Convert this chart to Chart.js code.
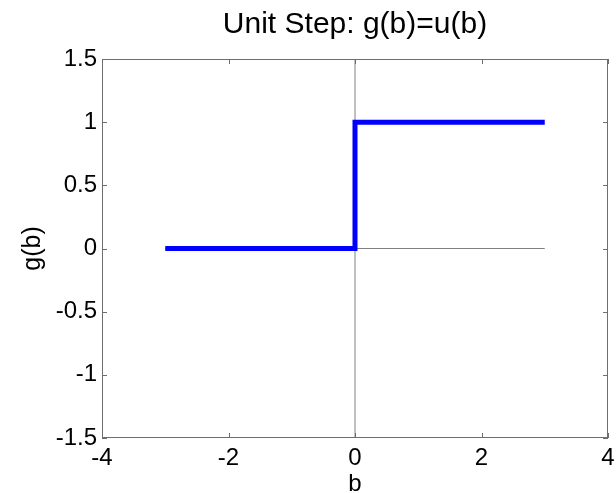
<!DOCTYPE html>
<html>
<head>
<meta charset="utf-8">
<script src="https://cdn.jsdelivr.net/npm/chart.js@4"></script>
<style>
  body { margin: 0; background: #fff; }
  #wrap { width: 616px; height: 493px; }
</style>
</head>
<body>
<div id="wrap"><canvas id="myChart"></canvas></div>
<script>
// step function data
var stepX = [-3, 0, 0, 3];
var stepY = [0, 0, 1, 1];
// thin reference lines through the origin
var vLineX = [0, 0];
var vLineY = [-1.5, 1.5];
var hLineX = [-3, 3];
var hLineY = [0, 0];
// axis ticks
var xTicks = [-4, -2, 0, 2, 4];
var yTicks = [-1.5, -1, -0.5, 0, 0.5, 1, 1.5];

function pts(xs, ys) {
    return xs.map(function(x, i) { return {x: x, y: ys[i]}; });
}

// box around the plot with inward tick marks (matlab style)
var boxPlugin = {
    id: 'box',
    afterDatasetsDraw: function(chart) {
        var ctx = chart.ctx, a = chart.chartArea;
        var xs = chart.scales.x, ys = chart.scales.y;
        ctx.save();
        ctx.strokeStyle = '#6e6e6e';
        ctx.lineWidth = 1;
        ctx.strokeRect(a.left + 0.5, a.top + 0.5, a.right - a.left - 1, a.bottom - a.top - 1);
        ctx.beginPath();
        xs.ticks.forEach(function(t) {
            var px = Math.round(xs.getPixelForValue(t.value)) + 0.5;
            ctx.moveTo(px, a.bottom); ctx.lineTo(px, a.bottom - 5);
            ctx.moveTo(px, a.top); ctx.lineTo(px, a.top + 5);
        });
        ys.ticks.forEach(function(t) {
            var py = Math.round(ys.getPixelForValue(t.value)) + 0.5;
            ctx.moveTo(a.left, py); ctx.lineTo(a.left + 5, py);
            ctx.moveTo(a.right, py); ctx.lineTo(a.right - 5, py);
        });
        ctx.stroke();
        ctx.restore();
    }
};

var font = 'Liberation Sans, Arial, sans-serif';
var ctx = document.getElementById('myChart').getContext('2d');
var myChart = new Chart(ctx, {
    type: 'line',
    data: {
        datasets: [{
            label: 'u(b)',
            data: pts(stepX, stepY),
            borderColor: '#0000ff',
            borderWidth: 5,
            pointRadius: 0,
            fill: false
        }, {
            label: 'vline',
            data: pts(vLineX, vLineY),
            borderColor: '#808080',
            borderWidth: 1,
            pointRadius: 0,
            fill: false
        }, {
            label: 'hline',
            data: pts(hLineX, hLineY),
            borderColor: '#808080',
            borderWidth: 1,
            pointRadius: 0,
            fill: false
        }]
    },
    options: {
        responsive: true,
        maintainAspectRatio: false,
        animation: false,
        layout: { padding: { left: 0, right: 8, top: 0, bottom: 0 } },
        plugins: {
            legend: { display: false },
            tooltip: { enabled: false },
            title: {
                display: true,
                text: 'Unit Step: g(b)=u(b)',
                fullSize: false,
                color: '#000',
                font: { family: font, size: 30, weight: 'normal', lineHeight: 1.2 },
                padding: { top: 7, bottom: 16 }
            }
        },
        scales: {
            x: {
                type: 'linear',
                min: -4, max: 4,
                afterBuildTicks: function(s) { s.ticks = xTicks.map(function(v) { return {value: v}; }); },
                afterFit: function(s) { s.height = 55; s.paddingLeft = 0; s.paddingRight = 0; },
                grid: { display: false, drawTicks: false },
                border: { display: false },
                ticks: {
                    color: '#000', padding: 6, maxRotation: 0,
                    font: { family: font, size: 24 },
                    callback: function(v) { return String(v); }
                },
                title: {
                    display: true, text: 'b', color: '#000',
                    font: { family: font, size: 24, lineHeight: 1 },
                    padding: { top: 0, bottom: -3 }
                }
            },
            y: {
                type: 'linear',
                min: -1.5, max: 1.5,
                afterBuildTicks: function(s) { s.ticks = yTicks.map(function(v) { return {value: v}; }); },
                afterFit: function(s) { s.width = 102; s.paddingTop = 0; s.paddingBottom = 0; },
                grid: { display: false, drawTicks: false },
                border: { display: false },
                ticks: {
                    color: '#000', padding: 5,
                    font: { family: font, size: 24 },
                    callback: function(v) { return String(v); }
                },
                title: {
                    display: true, text: 'g(b)', color: '#000',
                    font: { family: font, size: 25, lineHeight: 1.2 },
                    padding: { top: 18, bottom: 0 }
                }
            }
        }
    },
    plugins: [boxPlugin]
});
</script>
</body>
</html>
